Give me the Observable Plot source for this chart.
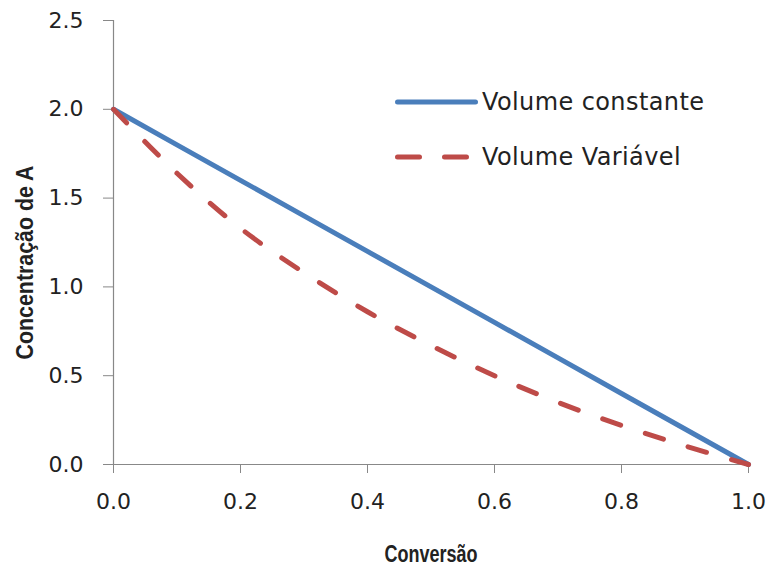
<!DOCTYPE html>
<html>
<head>
<meta charset="utf-8">
<script src="https://cdn.jsdelivr.net/npm/d3@7"></script>
<script src="https://cdn.jsdelivr.net/npm/@observablehq/plot@0.6"></script>
<style>
  html, body { margin: 0; padding: 0; background: #fff; }
  #wrap { position: relative; width: 770px; height: 570px; }
</style>
</head>
<body>
<div id="wrap"></div>
<script>
// Data
const conversion = [0, 0.1, 0.2, 0.3, 0.4, 0.5, 0.6, 0.7, 0.8, 0.9, 1.0];
const volumeConstante = [2.0, 1.8, 1.6, 1.4, 1.2, 1.0, 0.8, 0.6, 0.4, 0.2, 0.0];
const volumeVariavel = [2.0, 1.64, 1.33, 1.08, 0.86, 0.67, 0.50, 0.35, 0.22, 0.105, 0.0];
const seriesNames = ["Volume constante", "Volume Variável"];
const seriesColors = ["#4a7ebb", "#be4b48"];
const xTicks = [0, 0.2, 0.4, 0.6, 0.8, 1.0];
const yTicks = [0, 0.5, 1.0, 1.5, 2.0, 2.5];

const constData = conversion.map((x, i) => ({x, y: volumeConstante[i]}));
const varData = conversion.map((x, i) => ({x, y: volumeVariavel[i]}));

const tickFont = "'DejaVu Sans', sans-serif";
const titleFont = "'Liberation Sans', sans-serif";

const chart = Plot.plot({
  width: 770,
  height: 570,
  marginLeft: 113,
  marginRight: 22,
  marginTop: 20,
  marginBottom: 106,
  style: { fontFamily: tickFont, fontSize: "22px", color: "#222", background: "#fff" },
  x: { domain: [0, 1], label: null },
  y: { domain: [0, 2.5], label: null },
  marks: [
    Plot.ruleX([0], { stroke: "#888", strokeWidth: 1.2 }),
    Plot.ruleY([0], { stroke: "#888", strokeWidth: 1.2 }),
    Plot.axisX({ ticks: xTicks, tickFormat: d3.format(".1f"), tickSize: 9, tickPadding: 20, stroke: "#888", fill: "#222", label: null, fontSize: 22, fontFamily: tickFont }),
    Plot.axisY({ ticks: yTicks, tickFormat: d3.format(".1f"), tickSize: 10, tickPadding: 20, stroke: "#888", fill: "#222", label: null, fontSize: 22, fontFamily: tickFont }),
    Plot.line(constData, { x: "x", y: "y", stroke: seriesColors[0], strokeWidth: 5 }),
    Plot.line(varData, { x: "x", y: "y", stroke: seriesColors[1], strokeWidth: 5, curve: "catmull-rom", strokeDasharray: "19,26", strokeLinecap: "round" }),
    Plot.text(["Conversão"], { frameAnchor: "bottom", dy: 97, fontWeight: "bold", fontSize: 23, fontFamily: titleFont, fill: "#222", className: "xtitle" }),
    Plot.text(["Concentração de A"], { frameAnchor: "left", dx: -88, dy: 20, rotate: -90, textAnchor: "middle", fontWeight: "bold", fontSize: 23, fontFamily: titleFont, fill: "#222", className: "ytitle" })
  ]
});

const wrap = document.getElementById("wrap");
wrap.appendChild(chart);

// Condense the bold titles to match the narrow face of the reference
d3.select(chart).selectAll(".xtitle text").attr("textLength", 93).attr("lengthAdjust", "spacingAndGlyphs");
d3.select(chart).selectAll(".ytitle text").attr("textLength", 194).attr("lengthAdjust", "spacingAndGlyphs");

// Legend (inside the plot area, upper right)
const svg = d3.select(chart);
const leg = svg.append("g").attr("font-family", tickFont).attr("font-size", 24).attr("fill", "#222").attr("text-anchor", "start");
const legendItems = [
  { name: seriesNames[0], color: seriesColors[0], dash: null, x2: 475.5, cy: 102 },
  { name: seriesNames[1], color: seriesColors[1], dash: "22,25", x2: 466.5, cy: 157 }
];
legendItems.forEach(it => {
  const ln = leg.append("line")
    .attr("x1", 397.5).attr("x2", it.x2).attr("y1", it.cy).attr("y2", it.cy)
    .attr("stroke", it.color).attr("stroke-width", 5).attr("stroke-linecap", "round");
  if (it.dash) ln.attr("stroke-dasharray", it.dash);
  leg.append("text").attr("x", 482).attr("y", it.cy).attr("dy", "0.35em")
    .attr("text-anchor", "start").attr("letter-spacing", "0.4px").text(it.name);
});
</script>
</body>
</html>
